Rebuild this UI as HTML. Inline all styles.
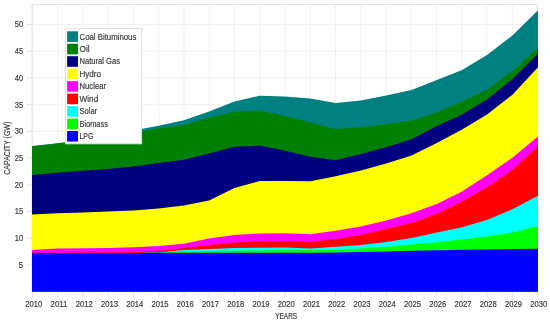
<!DOCTYPE html>
<html><head><meta charset="utf-8"><style>
html,body{margin:0;padding:0;background:#fff;width:550px;height:322px;overflow:hidden;}
svg{display:block;position:absolute;left:0;top:0;}
.txt{will-change:transform;}
text{font-family:"Liberation Sans",sans-serif;}
</style></head><body>
<svg width="550" height="322" viewBox="0 0 550 322">
<rect width="550" height="322" fill="#fff"/>
<line x1="32.50" y1="4.5" x2="32.50" y2="291.7" stroke="#f1f1f1" stroke-width="1"/>
<line x1="57.75" y1="4.5" x2="57.75" y2="291.7" stroke="#f1f1f1" stroke-width="1"/>
<line x1="83.00" y1="4.5" x2="83.00" y2="291.7" stroke="#f1f1f1" stroke-width="1"/>
<line x1="108.25" y1="4.5" x2="108.25" y2="291.7" stroke="#f1f1f1" stroke-width="1"/>
<line x1="133.50" y1="4.5" x2="133.50" y2="291.7" stroke="#f1f1f1" stroke-width="1"/>
<line x1="158.75" y1="4.5" x2="158.75" y2="291.7" stroke="#f1f1f1" stroke-width="1"/>
<line x1="184.00" y1="4.5" x2="184.00" y2="291.7" stroke="#f1f1f1" stroke-width="1"/>
<line x1="209.25" y1="4.5" x2="209.25" y2="291.7" stroke="#f1f1f1" stroke-width="1"/>
<line x1="234.50" y1="4.5" x2="234.50" y2="291.7" stroke="#f1f1f1" stroke-width="1"/>
<line x1="259.75" y1="4.5" x2="259.75" y2="291.7" stroke="#f1f1f1" stroke-width="1"/>
<line x1="285.00" y1="4.5" x2="285.00" y2="291.7" stroke="#f1f1f1" stroke-width="1"/>
<line x1="310.25" y1="4.5" x2="310.25" y2="291.7" stroke="#f1f1f1" stroke-width="1"/>
<line x1="335.50" y1="4.5" x2="335.50" y2="291.7" stroke="#f1f1f1" stroke-width="1"/>
<line x1="360.75" y1="4.5" x2="360.75" y2="291.7" stroke="#f1f1f1" stroke-width="1"/>
<line x1="386.00" y1="4.5" x2="386.00" y2="291.7" stroke="#f1f1f1" stroke-width="1"/>
<line x1="411.25" y1="4.5" x2="411.25" y2="291.7" stroke="#f1f1f1" stroke-width="1"/>
<line x1="436.50" y1="4.5" x2="436.50" y2="291.7" stroke="#f1f1f1" stroke-width="1"/>
<line x1="461.75" y1="4.5" x2="461.75" y2="291.7" stroke="#f1f1f1" stroke-width="1"/>
<line x1="487.00" y1="4.5" x2="487.00" y2="291.7" stroke="#f1f1f1" stroke-width="1"/>
<line x1="512.25" y1="4.5" x2="512.25" y2="291.7" stroke="#f1f1f1" stroke-width="1"/>
<line x1="537.50" y1="4.5" x2="537.50" y2="291.7" stroke="#f1f1f1" stroke-width="1"/>
<line x1="32.5" y1="264.99" x2="537.50" y2="264.99" stroke="#f1f1f1" stroke-width="1"/>
<line x1="32.5" y1="238.27" x2="537.50" y2="238.27" stroke="#f1f1f1" stroke-width="1"/>
<line x1="32.5" y1="211.56" x2="537.50" y2="211.56" stroke="#f1f1f1" stroke-width="1"/>
<line x1="32.5" y1="184.84" x2="537.50" y2="184.84" stroke="#f1f1f1" stroke-width="1"/>
<line x1="32.5" y1="158.12" x2="537.50" y2="158.12" stroke="#f1f1f1" stroke-width="1"/>
<line x1="32.5" y1="131.41" x2="537.50" y2="131.41" stroke="#f1f1f1" stroke-width="1"/>
<line x1="32.5" y1="104.69" x2="537.50" y2="104.69" stroke="#f1f1f1" stroke-width="1"/>
<line x1="32.5" y1="77.98" x2="537.50" y2="77.98" stroke="#f1f1f1" stroke-width="1"/>
<line x1="32.5" y1="51.26" x2="537.50" y2="51.26" stroke="#f1f1f1" stroke-width="1"/>
<line x1="32.5" y1="24.55" x2="537.50" y2="24.55" stroke="#f1f1f1" stroke-width="1"/>
<path d="M32,291.7 V4.5 H537.5 V291.7" fill="none" stroke="#e4e4e4" stroke-width="1"/>
<defs><filter id="bl" x="-2%" y="-2%" width="104%" height="104%"><feGaussianBlur stdDeviation="0.35"/></filter></defs>
<g filter="url(#bl)">
<polygon points="32.00,146.00 57.30,143.20 82.60,140.20 107.90,136.20 133.20,130.60 158.50,125.80 183.80,120.30 209.10,111.50 234.40,101.40 259.70,95.70 285.00,96.50 310.30,98.60 335.60,103.00 360.90,100.40 386.20,95.50 411.50,89.90 436.80,80.00 462.10,69.90 487.40,54.70 512.70,35.30 538.00,10.30 538.00,291.80 32.00,291.80" fill="#008080"/>
<polygon points="32.00,146.40 57.30,143.60 82.60,140.70 107.90,136.90 133.20,132.80 158.50,128.50 183.80,124.90 209.10,117.70 234.40,111.80 259.70,110.50 285.00,116.10 310.30,122.50 335.60,129.10 360.90,127.30 386.20,124.30 411.50,120.50 436.80,112.40 462.10,101.50 487.40,89.60 512.70,70.80 538.00,47.60 538.00,291.80 32.00,291.80" fill="#008000"/>
<polygon points="32.00,174.90 57.30,172.80 82.60,170.80 107.90,169.00 133.20,166.50 158.50,162.90 183.80,159.80 209.10,153.60 234.40,146.80 259.70,145.60 285.00,150.80 310.30,156.80 335.60,160.20 360.90,154.10 386.20,147.30 411.50,139.30 436.80,126.00 462.10,114.50 487.40,99.20 512.70,78.80 538.00,53.80 538.00,291.80 32.00,291.80" fill="#000080"/>
<polygon points="32.00,214.60 57.30,213.20 82.60,212.50 107.90,211.50 133.20,210.50 158.50,208.50 183.80,205.50 209.10,200.60 234.40,187.90 259.70,181.10 285.00,181.10 310.30,181.20 335.60,176.20 360.90,170.40 386.20,163.60 411.50,155.50 436.80,143.00 462.10,129.50 487.40,114.30 512.70,94.50 538.00,67.30 538.00,291.80 32.00,291.80" fill="#ffff00"/>
<polygon points="32.00,249.90 57.30,248.60 82.60,248.30 107.90,247.90 133.20,247.30 158.50,246.00 183.80,243.80 209.10,238.50 234.40,235.00 259.70,233.50 285.00,233.30 310.30,234.30 335.60,230.70 360.90,226.50 386.20,220.50 411.50,213.20 436.80,203.90 462.10,191.50 487.40,175.00 512.70,157.50 538.00,136.60 538.00,291.80 32.00,291.80" fill="#ff00ff"/>
<polygon points="32.00,252.70 57.30,252.70 82.60,252.60 107.90,252.60 133.20,252.20 158.50,250.70 183.80,247.90 209.10,245.00 234.40,242.50 259.70,241.30 285.00,241.00 310.30,242.10 335.60,239.00 360.90,235.00 386.20,228.80 411.50,223.00 436.80,213.70 462.10,201.20 487.40,187.10 512.70,169.50 538.00,146.30 538.00,291.80 32.00,291.80" fill="#ff0000"/>
<polygon points="32.00,252.90 57.30,252.90 82.60,252.90 107.90,252.90 133.20,252.90 158.50,252.40 183.80,250.00 209.10,248.90 234.40,248.00 259.70,247.70 285.00,247.50 310.30,248.50 335.60,246.80 360.90,244.90 386.20,242.10 411.50,238.00 436.80,232.60 462.10,227.20 487.40,219.70 512.70,209.10 538.00,195.70 538.00,291.80 32.00,291.80" fill="#00ffff"/>
<polygon points="32.00,252.90 57.30,252.90 82.60,252.90 107.90,252.90 133.20,252.90 158.50,252.80 183.80,251.40 209.10,251.00 234.40,250.60 259.70,250.40 285.00,250.10 310.30,250.10 335.60,249.70 360.90,248.50 386.20,246.80 411.50,244.60 436.80,242.30 462.10,239.60 487.40,236.30 512.70,232.40 538.00,225.90 538.00,291.80 32.00,291.80" fill="#00ff00"/>
<polygon points="32.00,252.90 57.30,252.90 82.60,252.90 107.90,252.90 133.20,252.90 158.50,252.80 183.80,252.80 209.10,252.80 234.40,252.80 259.70,252.70 285.00,252.70 310.30,252.70 335.60,252.60 360.90,252.00 386.20,251.40 411.50,250.70 436.80,250.20 462.10,249.70 487.40,249.40 512.70,249.10 538.00,248.80 538.00,291.80 32.00,291.80" fill="#0000ff"/>
</g>
<line x1="32.50" y1="292" x2="32.50" y2="297" stroke="#e6e6e6" stroke-width="1"/>
<line x1="57.75" y1="292" x2="57.75" y2="297" stroke="#e6e6e6" stroke-width="1"/>
<line x1="83.00" y1="292" x2="83.00" y2="297" stroke="#e6e6e6" stroke-width="1"/>
<line x1="108.25" y1="292" x2="108.25" y2="297" stroke="#e6e6e6" stroke-width="1"/>
<line x1="133.50" y1="292" x2="133.50" y2="297" stroke="#e6e6e6" stroke-width="1"/>
<line x1="158.75" y1="292" x2="158.75" y2="297" stroke="#e6e6e6" stroke-width="1"/>
<line x1="184.00" y1="292" x2="184.00" y2="297" stroke="#e6e6e6" stroke-width="1"/>
<line x1="209.25" y1="292" x2="209.25" y2="297" stroke="#e6e6e6" stroke-width="1"/>
<line x1="234.50" y1="292" x2="234.50" y2="297" stroke="#e6e6e6" stroke-width="1"/>
<line x1="259.75" y1="292" x2="259.75" y2="297" stroke="#e6e6e6" stroke-width="1"/>
<line x1="285.00" y1="292" x2="285.00" y2="297" stroke="#e6e6e6" stroke-width="1"/>
<line x1="310.25" y1="292" x2="310.25" y2="297" stroke="#e6e6e6" stroke-width="1"/>
<line x1="335.50" y1="292" x2="335.50" y2="297" stroke="#e6e6e6" stroke-width="1"/>
<line x1="360.75" y1="292" x2="360.75" y2="297" stroke="#e6e6e6" stroke-width="1"/>
<line x1="386.00" y1="292" x2="386.00" y2="297" stroke="#e6e6e6" stroke-width="1"/>
<line x1="411.25" y1="292" x2="411.25" y2="297" stroke="#e6e6e6" stroke-width="1"/>
<line x1="436.50" y1="292" x2="436.50" y2="297" stroke="#e6e6e6" stroke-width="1"/>
<line x1="461.75" y1="292" x2="461.75" y2="297" stroke="#e6e6e6" stroke-width="1"/>
<line x1="487.00" y1="292" x2="487.00" y2="297" stroke="#e6e6e6" stroke-width="1"/>
<line x1="512.25" y1="292" x2="512.25" y2="297" stroke="#e6e6e6" stroke-width="1"/>
<line x1="537.50" y1="292" x2="537.50" y2="297" stroke="#e6e6e6" stroke-width="1"/>
<line x1="27" y1="264.99" x2="32" y2="264.99" stroke="#e0e0e0" stroke-width="1"/>
<line x1="27" y1="238.27" x2="32" y2="238.27" stroke="#e0e0e0" stroke-width="1"/>
<line x1="27" y1="211.56" x2="32" y2="211.56" stroke="#e0e0e0" stroke-width="1"/>
<line x1="27" y1="184.84" x2="32" y2="184.84" stroke="#e0e0e0" stroke-width="1"/>
<line x1="27" y1="158.12" x2="32" y2="158.12" stroke="#e0e0e0" stroke-width="1"/>
<line x1="27" y1="131.41" x2="32" y2="131.41" stroke="#e0e0e0" stroke-width="1"/>
<line x1="27" y1="104.69" x2="32" y2="104.69" stroke="#e0e0e0" stroke-width="1"/>
<line x1="27" y1="77.98" x2="32" y2="77.98" stroke="#e0e0e0" stroke-width="1"/>
<line x1="27" y1="51.26" x2="32" y2="51.26" stroke="#e0e0e0" stroke-width="1"/>
<line x1="27" y1="24.55" x2="32" y2="24.55" stroke="#e0e0e0" stroke-width="1"/>
<rect x="65.5" y="28.5" width="76.1" height="115.3" fill="#fff" stroke="#e0e0e0" stroke-width="1"/>
<rect x="67.1" y="31.30" width="10.9" height="10.6" fill="#008080"/>
<rect x="67.1" y="43.76" width="10.9" height="10.6" fill="#008000"/>
<rect x="67.1" y="56.22" width="10.9" height="10.6" fill="#000080"/>
<rect x="67.1" y="68.68" width="10.9" height="10.6" fill="#ffff00"/>
<rect x="67.1" y="81.14" width="10.9" height="10.6" fill="#ff00ff"/>
<rect x="67.1" y="93.60" width="10.9" height="10.6" fill="#ff0000"/>
<rect x="67.1" y="106.06" width="10.9" height="10.6" fill="#00ffff"/>
<rect x="67.1" y="118.52" width="10.9" height="10.6" fill="#00ff00"/>
<rect x="67.1" y="130.98" width="10.9" height="10.6" fill="#0000ff"/>
</svg>
<svg class="txt" width="550" height="322" viewBox="0 0 550 322">
<g font-family="Liberation Sans, sans-serif" font-size="8.2" fill="#404040" stroke="#404040" stroke-width="0.2">
<text x="33.75" y="306.70" text-anchor="middle" textLength="17.00" lengthAdjust="spacingAndGlyphs">2010</text>
<text x="59.00" y="306.70" text-anchor="middle" textLength="17.00" lengthAdjust="spacingAndGlyphs">2011</text>
<text x="84.25" y="306.70" text-anchor="middle" textLength="17.00" lengthAdjust="spacingAndGlyphs">2012</text>
<text x="109.50" y="306.70" text-anchor="middle" textLength="17.00" lengthAdjust="spacingAndGlyphs">2013</text>
<text x="134.75" y="306.70" text-anchor="middle" textLength="17.00" lengthAdjust="spacingAndGlyphs">2014</text>
<text x="160.00" y="306.70" text-anchor="middle" textLength="17.00" lengthAdjust="spacingAndGlyphs">2015</text>
<text x="185.25" y="306.70" text-anchor="middle" textLength="17.00" lengthAdjust="spacingAndGlyphs">2016</text>
<text x="210.50" y="306.70" text-anchor="middle" textLength="17.00" lengthAdjust="spacingAndGlyphs">2017</text>
<text x="235.75" y="306.70" text-anchor="middle" textLength="17.00" lengthAdjust="spacingAndGlyphs">2018</text>
<text x="261.00" y="306.70" text-anchor="middle" textLength="17.00" lengthAdjust="spacingAndGlyphs">2019</text>
<text x="286.25" y="306.70" text-anchor="middle" textLength="17.00" lengthAdjust="spacingAndGlyphs">2020</text>
<text x="311.50" y="306.70" text-anchor="middle" textLength="17.00" lengthAdjust="spacingAndGlyphs">2021</text>
<text x="336.75" y="306.70" text-anchor="middle" textLength="17.00" lengthAdjust="spacingAndGlyphs">2022</text>
<text x="362.00" y="306.70" text-anchor="middle" textLength="17.00" lengthAdjust="spacingAndGlyphs">2023</text>
<text x="387.25" y="306.70" text-anchor="middle" textLength="17.00" lengthAdjust="spacingAndGlyphs">2024</text>
<text x="412.50" y="306.70" text-anchor="middle" textLength="17.00" lengthAdjust="spacingAndGlyphs">2025</text>
<text x="437.75" y="306.70" text-anchor="middle" textLength="17.00" lengthAdjust="spacingAndGlyphs">2026</text>
<text x="463.00" y="306.70" text-anchor="middle" textLength="17.00" lengthAdjust="spacingAndGlyphs">2027</text>
<text x="488.25" y="306.70" text-anchor="middle" textLength="17.00" lengthAdjust="spacingAndGlyphs">2028</text>
<text x="513.50" y="306.70" text-anchor="middle" textLength="17.00" lengthAdjust="spacingAndGlyphs">2029</text>
<text x="538.75" y="306.70" text-anchor="middle" textLength="17.00" lengthAdjust="spacingAndGlyphs">2030</text>
<text x="23.20" y="267.84" text-anchor="end" textLength="4.40" lengthAdjust="spacingAndGlyphs">5</text>
<text x="23.20" y="241.12" text-anchor="end" textLength="8.40" lengthAdjust="spacingAndGlyphs">10</text>
<text x="23.20" y="214.41" text-anchor="end" textLength="8.40" lengthAdjust="spacingAndGlyphs">15</text>
<text x="23.20" y="187.69" text-anchor="end" textLength="8.40" lengthAdjust="spacingAndGlyphs">20</text>
<text x="23.20" y="160.97" text-anchor="end" textLength="8.40" lengthAdjust="spacingAndGlyphs">25</text>
<text x="23.20" y="134.26" text-anchor="end" textLength="8.40" lengthAdjust="spacingAndGlyphs">30</text>
<text x="23.20" y="107.54" text-anchor="end" textLength="8.40" lengthAdjust="spacingAndGlyphs">35</text>
<text x="23.20" y="80.83" text-anchor="end" textLength="8.40" lengthAdjust="spacingAndGlyphs">40</text>
<text x="23.20" y="54.11" text-anchor="end" textLength="8.40" lengthAdjust="spacingAndGlyphs">45</text>
<text x="23.20" y="27.40" text-anchor="end" textLength="8.40" lengthAdjust="spacingAndGlyphs">50</text>
<text x="286.2" y="318.8" text-anchor="middle" textLength="22" lengthAdjust="spacingAndGlyphs">YEARS</text>
<text transform="translate(9.8,148.2) rotate(-90)" text-anchor="middle" textLength="53" lengthAdjust="spacingAndGlyphs">CAPACITY (GW)</text>
<text x="79.50" y="39.50" textLength="56.80" lengthAdjust="spacingAndGlyphs">Coal Bituminous</text>
<text x="79.50" y="51.93" textLength="10.10" lengthAdjust="spacingAndGlyphs">Oil</text>
<text x="79.50" y="64.36" textLength="40.50" lengthAdjust="spacingAndGlyphs">Natural Gas</text>
<text x="79.50" y="76.79" textLength="21.50" lengthAdjust="spacingAndGlyphs">Hydro</text>
<text x="79.50" y="89.22" textLength="26.60" lengthAdjust="spacingAndGlyphs">Nuclear</text>
<text x="79.50" y="101.65" textLength="18.70" lengthAdjust="spacingAndGlyphs">Wind</text>
<text x="79.50" y="114.08" textLength="17.60" lengthAdjust="spacingAndGlyphs">Solar</text>
<text x="79.50" y="126.51" textLength="28.40" lengthAdjust="spacingAndGlyphs">Biomass</text>
<text x="79.50" y="138.94" textLength="13.90" lengthAdjust="spacingAndGlyphs">LPG</text>
</g>
</svg>
</body></html>
